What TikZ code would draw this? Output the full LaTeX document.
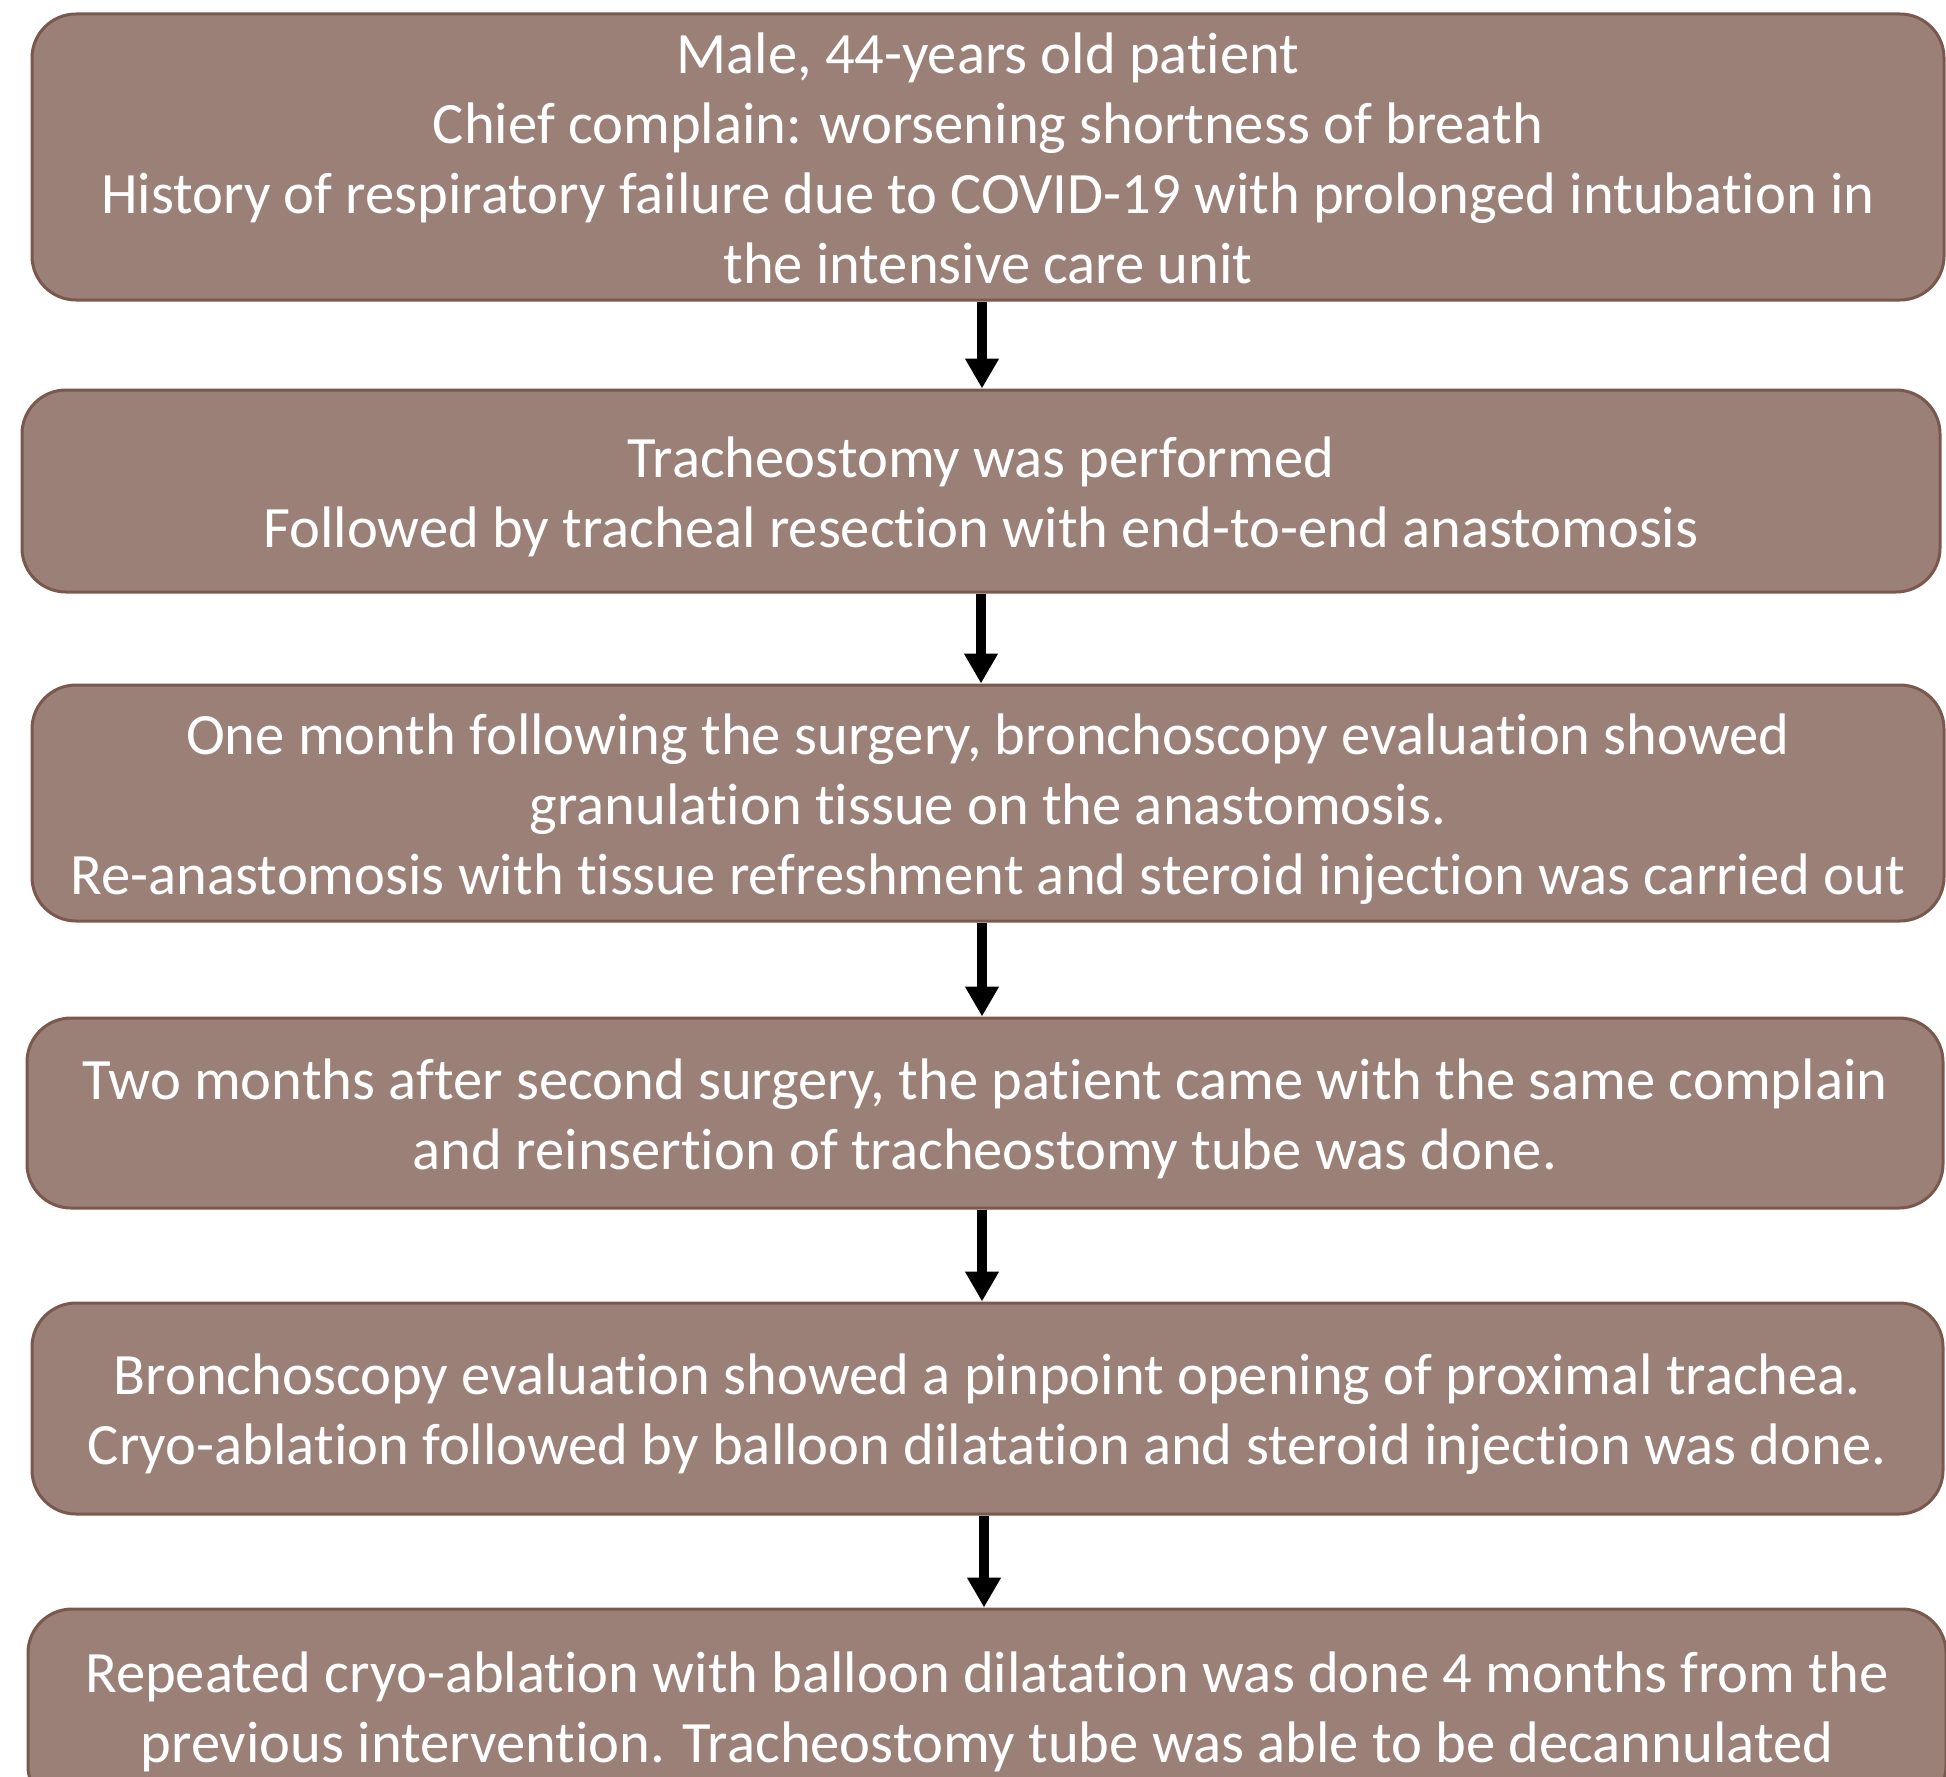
\documentclass[tikz,border=0pt]{standalone}
\usepackage{fontspec}
\setmainfont{Carlito}[Ligatures=NoCommon]
\usetikzlibrary{arrows.meta}
\definecolor{boxfill}{RGB}{155,128,119}
\definecolor{boxline}{RGB}{122,88,78}
\tikzset{
  stepbox/.style={draw=boxline, line width=1.5pt, fill=boxfill, rounded corners=22pt, inner sep=0pt},
  steptext/.style={text=white, align=center, inner sep=0pt,
    font=\fontsize{29.3pt}{35pt}\selectfont},
  arr/.style={line width=5pt, -{Triangle[width=16pt,length=15pt]}, black}
}
\begin{document}
\begin{tikzpicture}[x=0.5pt,y=-0.5pt]
\path[use as bounding box, clip] (0,0) rectangle (1946,1776);
\fill[white] (0,0) rectangle (1946,1776);
\node[stepbox, minimum width=956pt, minimum height=143pt] (b1) at (988,157) {};
\node[steptext] (t1) at ([yshift=-0.7pt]b1.center)
  {Male, 44-years old patient\\Chief complain: worsening shortness of breath\\History of respiratory failure due to COVID-19 with prolonged intubation in\\the intensive care unit};
\node[stepbox, minimum width=959pt, minimum height=101pt] (b2) at (981,491) {};
\node[steptext] (t2) at ([yshift=-3pt]b2.center)
  {Tracheostomy was performed\\Followed by tracheal resection with end-to-end anastomosis};
\node[stepbox, minimum width=956pt, minimum height=118pt] (b3) at (988,803) {};
\node[steptext] (t3) at ([yshift=-3pt]b3.center)
  {One month following the surgery, bronchoscopy evaluation showed\\granulation tissue on the anastomosis.\\Re-anastomosis with tissue refreshment and steroid injection was carried out};
\node[stepbox, minimum width=958pt, minimum height=95pt] (b4) at (985,1113) {};
\node[steptext] (t4) at ([yshift=-3pt]b4.center)
  {Two months after second surgery, the patient came with the same complain\\and reinsertion of tracheostomy tube was done.};
\node[stepbox, minimum width=955.5pt, minimum height=105.5pt] (b5) at (987.5,1408.5) {};
\node[steptext] (t5) at ([yshift=-3pt]b5.center)
  {Bronchoscopy evaluation showed a pinpoint opening of proximal trachea.\\Cryo-ablation followed by balloon dilatation and steroid injection was done.};
\node[stepbox, minimum width=959pt, minimum height=100.5pt] (b6) at (987,1709.5) {};
\node[steptext] (t6) at ([yshift=-1.3pt]b6.center)
  {Repeated cryo-ablation with balloon dilatation was done 4 months from the\\previous intervention. Tracheostomy tube was able to be decannulated};
\draw[arr] (b1.south -| 982,0) -- (b2.north -| 982,0);
\draw[arr] (b2.south -| 981,0) -- (b3.north -| 981,0);
\draw[arr] (b3.south -| 982,0) -- (b4.north -| 982,0);
\draw[arr] (b4.south -| 982,0) -- (b5.north -| 982,0);
\draw[arr] (b5.south -| 984,0) -- (b6.north -| 984,0);
\end{tikzpicture}
\end{document}
